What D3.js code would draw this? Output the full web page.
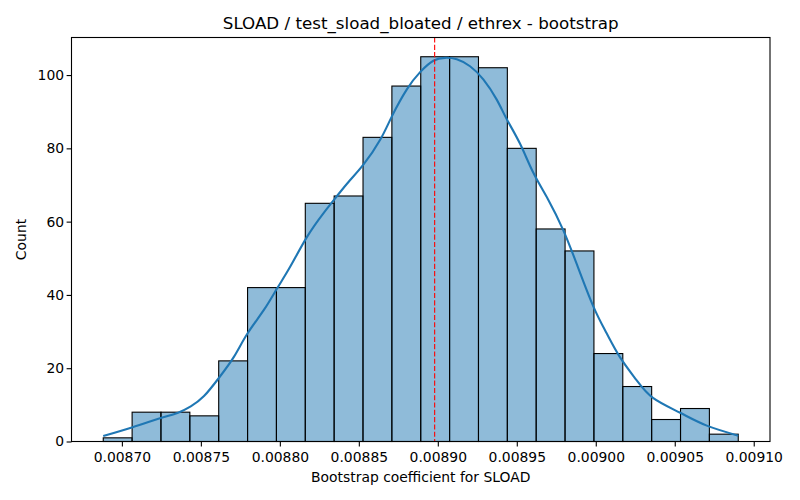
<!DOCTYPE html>
<html>
<head>
<meta charset="utf-8">
<script src="https://cdn.jsdelivr.net/npm/d3@7"></script>
<style>
  body { margin: 0; background: #fff; }
  svg { font-family: "DejaVu Sans", sans-serif; }
</style>
</head>
<body>
<div id="chart"></div>
<script>
// Histogram counts (22 bins between binLo and binHi)
const counts = [1, 8, 8, 7, 22, 42, 42, 65, 67, 83, 97, 105, 105, 102, 80, 58, 52, 24, 15, 6, 9, 2];
const binLo = 0.0086882;
const binHi = 0.0090902;

// KDE curve (x value, count)
const kdeX = [0.0086882, 0.0087068, 0.0087246, 0.0087352, 0.0087436, 0.0087520, 0.0087615, 0.0087709,
  0.0087794, 0.0087899, 0.0087983, 0.0088067, 0.0088173, 0.0088278, 0.0088362, 0.0088436, 0.0088530,
  0.0088636, 0.0088710, 0.0088804, 0.0088888, 0.0088972, 0.0089046, 0.0089120, 0.0089204, 0.0089288,
  0.0089373, 0.0089436, 0.0089520, 0.0089604, 0.0089699, 0.0089794, 0.0089878, 0.0089983, 0.0090068,
  0.0090152, 0.0090257, 0.0090362, 0.0090531, 0.0090699, 0.0090902];
const kdeY = [1.5, 3.9, 6.4, 7.8, 9.6, 12.4, 17.4, 23.1, 29.4, 35.9, 41.8, 47.8, 55.9, 62.4, 67.0, 70.9,
  75.6, 82.4, 88.8, 96.1, 100.8, 103.9, 104.7, 104.3, 102.4, 98.8, 93.3, 88.0, 81.3, 73.4, 66.0, 57.7,
  48.6, 37.0, 29.6, 23.1, 16.8, 11.9, 7.9, 4.4, 1.6];

const meanValue = 0.008898;
const xTicks = [0.00870, 0.00875, 0.00880, 0.00885, 0.00890, 0.00895, 0.00900, 0.00905, 0.00910];
const yTicks = [0, 20, 40, 60, 80, 100];

const W = 800, H = 500;
const margin = { top: 37.5, right: 30, bottom: 58.5, left: 71.5 };
const width = W - margin.left - margin.right,
    height = H - margin.top - margin.bottom;

const svg = d3.select("#chart").append("svg")
    .attr("width", W)
    .attr("height", H);

const g = svg.append("g")
    .attr("transform", "translate(" + margin.left + "," + margin.top + ")");

// Scales (matplotlib style 5% margins on x)
const pad = (binHi - binLo) * 0.05;
const x = d3.scaleLinear().domain([binLo - pad, binHi + pad]).range([0, width]);
const y = d3.scaleLinear().domain([0, 105 * 1.05]).range([height, 0]);

// Bin edges
const step = (binHi - binLo) / counts.length;
const bins = counts.map((c, i) => ({ x0: binLo + i * step, x1: binLo + (i + 1) * step, n: c }));

g.selectAll("rect.bar")
    .data(bins)
    .enter().append("rect")
    .attr("class", "bar")
    .attr("x", d => x(d.x0))
    .attr("y", d => y(d.n))
    .attr("width", d => x(d.x1) - x(d.x0))
    .attr("height", d => y(0) - y(d.n))
    .attr("fill", "#1f77b4")
    .attr("fill-opacity", 0.5)
    .attr("stroke", "#000")
    .attr("stroke-width", 1.1);

// KDE line
const line = d3.line()
    .x(d => x(d[0]))
    .y(d => y(d[1]))
    .curve(d3.curveNatural);

g.append("path")
    .datum(kdeX.map((v, i) => [v, kdeY[i]]))
    .attr("d", line)
    .attr("fill", "none")
    .attr("stroke", "#1f77b4")
    .attr("stroke-width", 2.1);

// Mean line
g.append("line")
    .attr("x1", x(meanValue)).attr("x2", x(meanValue))
    .attr("y1", 0).attr("y2", height)
    .attr("stroke", "red")
    .attr("stroke-width", 1.1)
    .attr("stroke-dasharray", "5.1,2.2");

// Axes
const xAxis = g.append("g")
    .attr("transform", "translate(0," + height + ")")
    .call(d3.axisBottom(x).tickValues(xTicks).tickFormat(d3.format(".5f")).tickSize(4.9).tickSizeOuter(0));
const yAxis = g.append("g")
    .call(d3.axisLeft(y).tickValues(yTicks).tickSize(4.9).tickSizeOuter(0));

[xAxis, yAxis].forEach(a => {
    a.selectAll("text").attr("font-size", "13.9px").attr("font-family", "DejaVu Sans").attr("fill", "#000");
    a.selectAll("line").attr("stroke", "#000").attr("stroke-width", 1.1);
    a.select(".domain").remove();
});
xAxis.selectAll("text").attr("dy", "0.95em").attr("y", 7.4);
yAxis.selectAll("text").attr("x", -7.4);

// Frame
g.append("rect")
    .attr("width", width).attr("height", height)
    .attr("fill", "none")
    .attr("stroke", "#000")
    .attr("stroke-width", 1.1);

// Title & labels
svg.append("text")
    .attr("x", margin.left + width / 2)
    .attr("y", 29)
    .attr("text-anchor", "middle")
    .attr("font-size", "16.7px")
    .text("SLOAD / test_sload_bloated / ethrex - bootstrap");

svg.append("text")
    .attr("x", margin.left + width / 2)
    .attr("y", 482)
    .attr("text-anchor", "middle")
    .attr("font-size", "13.9px")
    .text("Bootstrap coefficient for SLOAD");

svg.append("text")
    .attr("transform", "translate(26," + (margin.top + height / 2) + ") rotate(-90)")
    .attr("text-anchor", "middle")
    .attr("font-size", "13.9px")
    .text("Count");
</script>
</body>
</html>
